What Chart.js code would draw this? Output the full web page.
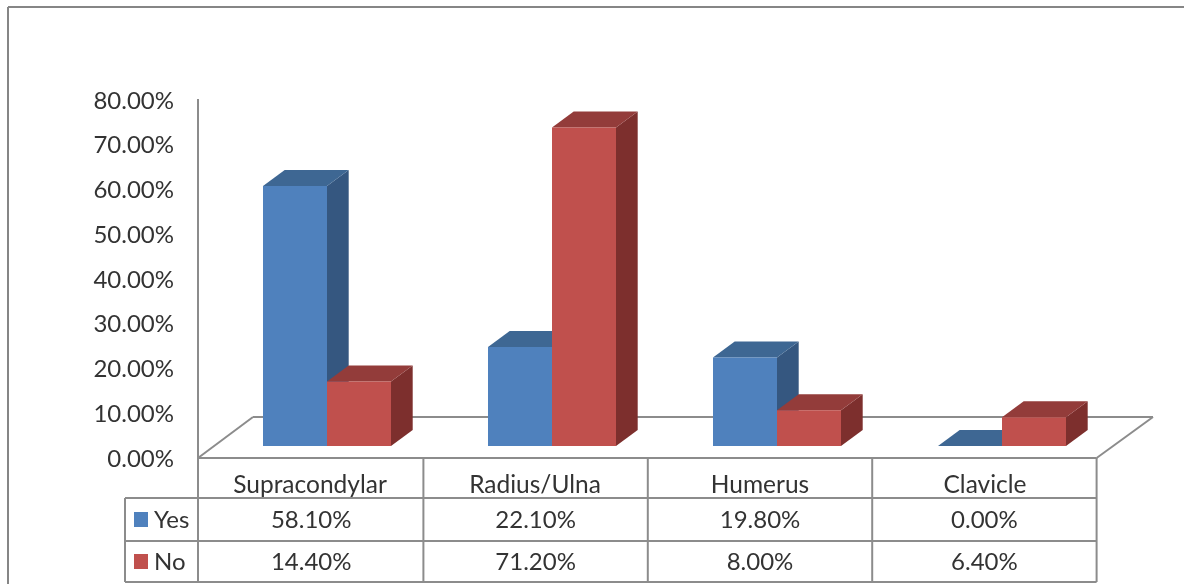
<!DOCTYPE html>
<html lang="en">
<head>
  <meta charset="UTF-8">
  <title>Fracture types</title>
  <script src="https://cdn.jsdelivr.net/npm/chart.js"></script>
  <style>
    html, body {
      margin: 0;
      padding: 0;
      background: #fff;
      overflow: hidden;
    }
    #wrap {
      width: 1184px;
      height: 584px;
    }
    /* the reference is a slightly soft screenshot */
    canvas {
      filter: blur(0.35px);
    }
  </style>
</head>
<body>
  <div id="wrap"><canvas id="chart" width="1184" height="584"></canvas></div>

  <script>
    const categories = ["Supracondylar", "Radius/Ulna", "Humerus", "Clavicle"];
    const yesValues = [58.1, 22.1, 19.8, 0];
    const noValues = [14.4, 71.2, 8, 6.4];

    const lineColor = "#8c8c8c";
    const textColor = "#333333";
    const fontFamily = "Lato, 'Open Sans', sans-serif";
    const depthX = 21.7;
    const depthY = 16;

    const pct = v => v.toFixed(2) + "%";

    function line(ctx, x1, y1, x2, y2) {
      ctx.beginPath();
      ctx.moveTo(x1, y1);
      ctx.lineTo(x2, y2);
      ctx.stroke();
    }

    function poly(ctx, color, pts) {
      ctx.fillStyle = color;
      ctx.beginPath();
      pts.forEach((p, i) => (i ? ctx.lineTo(p[0], p[1]) : ctx.moveTo(p[0], p[1])));
      ctx.closePath();
      ctx.fill();
    }

    // frame, floor and the data table, drawn behind the bars
    const backdrop = {
      id: "backdrop",
      beforeDatasetsDraw(chart) {
        const { ctx, chartArea } = chart;
        const bottom = chartArea.bottom - 1;
        const left = 199;
        const colW = 224.4;
        const right = left + colW * 4;
        const rows = [bottom + 40, bottom + 83, bottom + 124];

        ctx.save();
        ctx.strokeStyle = "#868686";
        ctx.lineWidth = 2;
        line(ctx, 8, 7, 1184, 7);
        line(ctx, 8, 7, 8, 584);

        ctx.strokeStyle = lineColor;
        line(ctx, left - 1, chartArea.top - 2, left - 1, rows[2]);
        line(ctx, left - 1, bottom, right, bottom);
        line(ctx, left - 1, bottom, 253, 417);
        line(ctx, 253, 417, 1153, 417);
        line(ctx, 1153, 417, right, bottom);

        // table grid
        for (let i = 1; i <= 4; i++) {
          line(ctx, left + colW * i, bottom, left + colW * i, rows[2]);
        }
        rows.forEach(y => line(ctx, 125, y, right, y));
        line(ctx, 125, rows[0], 125, rows[2]);

        // table values
        ctx.font = "24px " + fontFamily;
        ctx.fillStyle = textColor;
        ctx.textBaseline = "middle";
        ctx.textAlign = "center";
        [yesValues, noValues].forEach((vals, r) => {
          vals.forEach((v, i) => {
            ctx.fillText(pct(v), left + colW * (i + 0.5), rows[r] + 22 - r);
          });
        });

        // legend keys in the first column
        chart.data.datasets.forEach((ds, r) => {
          ctx.fillStyle = ds.backgroundColor;
          ctx.fillRect(134, rows[r] + 14 - r, 14, 15);
          ctx.fillStyle = textColor;
          ctx.textAlign = "left";
          ctx.fillText(ds.label, 154, rows[r] + 22 - r);
        });
        ctx.restore();
      }
    };

    // top and side faces of the bars, read from the bar elements.
    // drawn before the fronts so a red front hides the blue side behind it
    const depthFaces = {
      id: "depthFaces",
      beforeDatasetsDraw(chart) {
        const { ctx } = chart;
        ctx.save();
        chart.data.datasets.forEach((ds, i) => {
          chart.getDatasetMeta(i).data.forEach(bar => {
            const l = bar.x - bar.width / 2;
            const r = bar.x + bar.width / 2;
            poly(ctx, ds.sideColor, [[r, bar.y], [r + depthX, bar.y - depthY], [r + depthX, bar.base - depthY], [r, bar.base]]);
            poly(ctx, ds.topColor, [[l, bar.y], [r, bar.y], [r + depthX, bar.y - depthY], [l + depthX, bar.y - depthY]]);
          });
        });
        ctx.restore();
      }
    };

    new Chart(document.getElementById("chart"), {
      type: "bar",
      data: {
        labels: categories,
        datasets: [
          { label: "Yes", data: yesValues, backgroundColor: "#4f81bd", topColor: "#3e6793", sideColor: "#355780", yAxisID: "bars" },
          { label: "No", data: noValues, backgroundColor: "#c0504d", topColor: "#933c3a", sideColor: "#7d2f2d", yAxisID: "bars" }
        ]
      },
      plugins: [backdrop, depthFaces],
      options: {
        responsive: false,
        animation: false,
        layout: { padding: { top: 101, right: 69.5, left: 0, bottom: 0 } },
        plugins: {
          legend: { display: false },
          tooltip: { enabled: false },
          title: { display: false }
        },
        datasets: {
          bar: { barPercentage: 1, categoryPercentage: 0.5689 }
        },
        scales: {
          x: {
            grid: { display: false, drawTicks: false },
            border: { display: false },
            afterFit: s => { s.height = 125; },
            ticks: {
              color: textColor,
              font: { family: fontFamily, size: 24.5 },
              padding: 11,
              labelOffset: -17,
              maxRotation: 0
            }
          },
          y: {
            position: "left",
            min: 0,
            max: 80,
            afterFit: s => { s.width = 214.5; },
            grid: { display: false, drawTicks: false },
            border: { display: false },
            ticks: {
              stepSize: 10,
              color: textColor,
              font: { family: fontFamily, size: 24 },
              padding: 40.5,
              callback: v => pct(v)
            }
          },
          // the bars stand on the raised floor, 13px above the axis zero
          bars: {
            display: false,
            min: -2.905,
            max: 77.095
          }
        }
      }
    });
  </script>
</body>
</html>
